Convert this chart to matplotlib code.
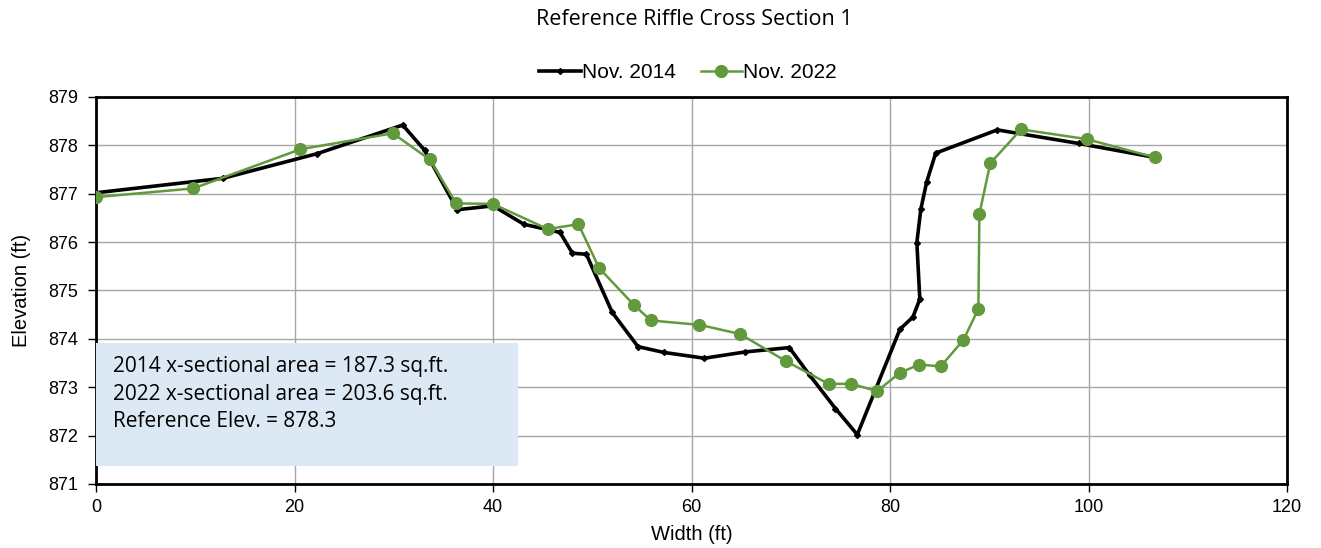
import matplotlib.pyplot as plt
from matplotlib.patches import Rectangle

# Dados da seção transversal
largura_2014 = [0.0, 12.8, 22.3, 30.9, 33.1, 36.4, 40.0, 43.1, 46.75, 48.0, 49.4, 52.0,
                54.6, 57.2, 61.3, 65.4, 69.85, 71.9, 74.5, 76.7, 81.0, 82.3, 83.0,
                82.7, 83.1, 83.7, 84.6, 90.8, 99.0, 106.7]
elev_2014 = [877.02, 877.32, 877.83, 878.42, 877.9, 876.67, 876.75, 876.37, 876.2, 875.77,
             875.75, 874.55, 873.84, 873.72, 873.6, 873.73, 873.82, 873.25, 872.56, 872.02,
             874.2, 874.45, 874.82, 875.99, 876.68, 877.25, 877.84, 878.32, 878.04, 877.75]

largura_2022 = [0.0, 9.8, 20.6, 29.9, 33.6, 36.3, 40.0, 45.5, 48.6, 50.7, 54.2, 55.9,
                60.8, 64.9, 69.5, 73.8, 76.1, 78.7, 81.0, 82.95, 85.1, 87.4, 88.9,
                89.0, 90.1, 93.2, 99.8, 106.7]
elev_2022 = [876.93, 877.11, 877.92, 878.25, 877.71, 876.8, 876.79, 876.27, 876.37, 875.46,
             874.7, 874.38, 874.29, 874.1, 873.54, 873.07, 873.07, 872.92, 873.3, 873.47,
             873.43, 873.98, 874.62, 876.58, 877.63, 878.33, 878.13, 877.75]

rotulos = ["Nov. 2014", "Nov. 2022"]
texto_caixa = ["2014 x-sectional area = 187.3 sq.ft.",
               "2022 x-sectional area = 203.6 sq.ft.",
               "Reference Elev. = 878.3"]

plt.rcParams['font.family'] = ['Liberation Sans', 'DejaVu Sans']

fig = plt.figure(figsize=(13.21, 5.48), dpi=100)
ax = fig.add_axes([0.0727, 0.1168, 0.9016, 0.7062])

ax.plot(largura_2014, elev_2014, color="black", lw=2.6, marker="D", ms=3,
        label=rotulos[0], zorder=3)
ax.plot(largura_2022, elev_2022, color="#63993d", lw=1.8, marker="o", ms=8.5,
        label=rotulos[1], zorder=4)

ax.set_xlim(0, 120)
ax.set_ylim(871, 879)
ax.set_xticks(range(0, 121, 20))
ax.set_yticks(range(871, 880))
ax.grid(True, color="#a6a6a6", lw=1.0)
ax.set_axisbelow(True)
for s in ax.spines.values():
    s.set_linewidth(2)
    s.set_color("black")
ax.tick_params(labelsize=13, direction="out", length=6, width=1)
ax.tick_params(axis="y", pad=7)
ax.tick_params(axis="x", pad=5)

ax.set_xlabel("Width (ft)", fontsize=14.5, labelpad=6)
ax.set_ylabel("Elevation (ft)", fontsize=14.5, labelpad=12)

fig.text(0.5257, 0.965, "Reference Riffle Cross Section 1", ha="center", va="center",
         fontsize=15.5, family=["Open Sans", "DejaVu Sans"])

ax.legend(loc="lower center", bbox_to_anchor=(0.497, 1.0), ncol=2, frameon=False,
          fontsize=15, handlelength=2.0, handletextpad=0.05, columnspacing=1.2,
          borderaxespad=0.3)

# Caixa de texto com as áreas
caixa = Rectangle((0.0, 0.0465), 0.354, 0.3175, transform=ax.transAxes,
                  facecolor="#dce8f4", edgecolor="none", zorder=5)
ax.add_patch(caixa)
ax.text(0.0145, 0.232, "\n".join(texto_caixa), transform=ax.transAxes, va="center",
        ha="left", fontsize=15, linespacing=1.42, zorder=6,
        family=["Open Sans", "DejaVu Sans"])

plt.savefig("out.png", dpi=100)
